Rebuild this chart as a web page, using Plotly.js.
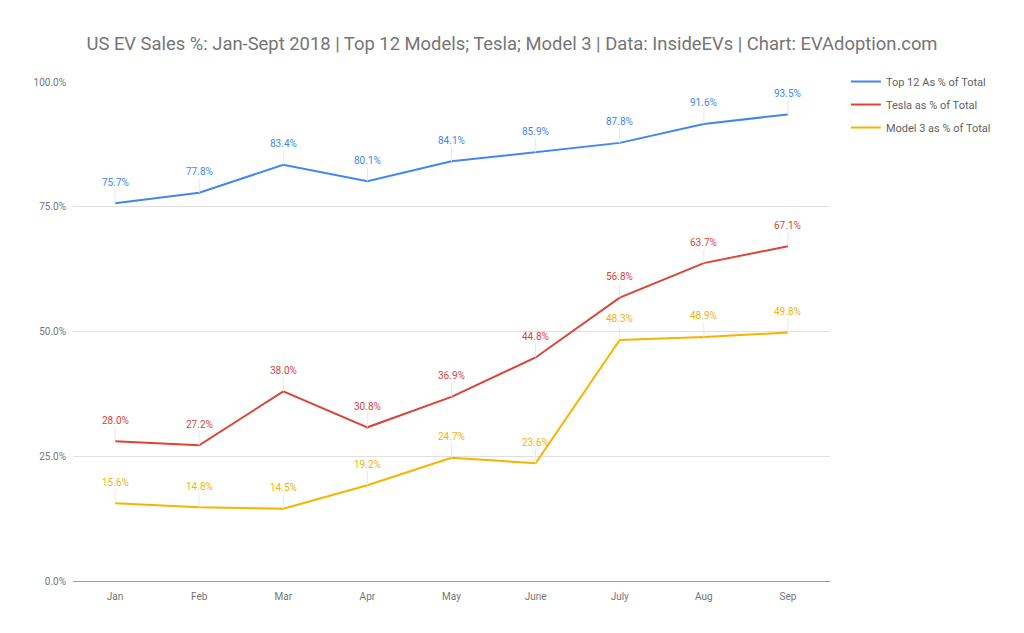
<!DOCTYPE html>
<html>
<head>
<meta charset="utf-8">
<script src="https://cdn.plot.ly/plotly-3.0.1.min.js"></script>
<style>
  html, body { margin: 0; padding: 0; background: #fff; }
  #chart { width: 1024px; height: 633px; }
</style>
</head>
<body>
<div id="chart"></div>
<script>
(function () {
  'use strict';

  var months = ['Jan', 'Feb', 'Mar', 'Apr', 'May', 'June', 'July', 'Aug', 'Sep'];
  var top12Pct = [0.757, 0.778, 0.834, 0.801, 0.841, 0.859, 0.878, 0.916, 0.935];
  var teslaPct = [0.280, 0.272, 0.380, 0.308, 0.369, 0.448, 0.568, 0.637, 0.671];
  var model3Pct = [0.156, 0.148, 0.145, 0.192, 0.247, 0.236, 0.483, 0.489, 0.498];
  var seriesNames = ['Top 12 As % of Total', 'Tesla as % of Total', 'Model 3 as % of Total'];

  var COLORS = {
    blue: '#4285F4',
    red: '#DB4437',
    yellow: '#F4B400',
    text: '#757575',
    grid: '#e0e0e0',
    axis: '#9e9e9e',
    leader: '#e8e8e8',
  };

  var series = [
    { name: seriesNames[0], y: top12Pct, color: COLORS.blue },
    { name: seriesNames[1], y: teslaPct, color: COLORS.red },
    { name: seriesNames[2], y: model3Pct, color: COLORS.yellow },
  ];

  var traces = series.map(function (s, i) {
    return {
      x: months,
      y: s.y,
      mode: 'lines',
      name: s.name,
      legendgroup: 'g' + i,
      line: { color: s.color, width: 2 },
      hoverinfo: 'skip',
    };
  });

  // data labels sit above each point with a thin leader line
  var annotations = [];
  series.forEach(function (s) {
    s.y.forEach(function (v, j) {
      annotations.push({
        x: months[j], y: v, xref: 'x', yref: 'y',
        text: (v * 100).toFixed(1) + '%',
        showarrow: true, arrowhead: 0, arrowwidth: 1,
        arrowcolor: COLORS.leader,
        ax: 0, ay: -21,
        font: { family: 'Roboto, sans-serif', size: 10, color: s.color },
      });
    });
  });

  var layout = {
    width: 1024,
    height: 633,
    paper_bgcolor: '#fff',
    plot_bgcolor: '#fff',
    font: { family: 'Roboto, sans-serif', color: COLORS.text, size: 10 },
    margin: { t: 82, r: 194, b: 52, l: 73 },
    title: {
      text: 'US EV Sales %: Jan-Sept 2018 | Top 12 Models; Tesla; Model 3 | Data: InsideEVs | Chart: EVAdoption.com',
      font: { family: 'Roboto, sans-serif', size: 18.4, color: COLORS.text },
      x: 0.5, xanchor: 'center',
      y: 1 - 44 / 633, yanchor: 'middle', yref: 'container',
    },
    xaxis: {
      type: 'category',
      showgrid: false,
      zeroline: false,
      showline: false,
      ticks: '',
      ticklabelstandoff: 8,
      tickfont: { size: 10, color: COLORS.text },
      range: [-0.5, months.length - 0.5],
    },
    yaxis: {
      range: [0, 1],
      dtick: 0.25,
      tickformat: '.1%',
      gridcolor: COLORS.grid,
      gridwidth: 1,
      zeroline: true,
      zerolinecolor: COLORS.axis,
      zerolinewidth: 1,
      ticks: '',
      ticklabelstandoff: 6,
      tickfont: { size: 10, color: COLORS.text },
    },
    showlegend: true,
    legend: {
      x: 1.021, xref: 'paper', xanchor: 'left',
      y: 1.03, yanchor: 'top',
      traceorder: 'grouped',
      tracegroupgap: 4,
      itemwidth: 30,
      font: { size: 11, color: '#616161' },
      bgcolor: 'rgba(0,0,0,0)',
    },
    annotations: annotations,
  };

  Plotly.newPlot('chart', traces, layout, { displayModeBar: false, staticPlot: true });
})();
</script>
</body>
</html>
